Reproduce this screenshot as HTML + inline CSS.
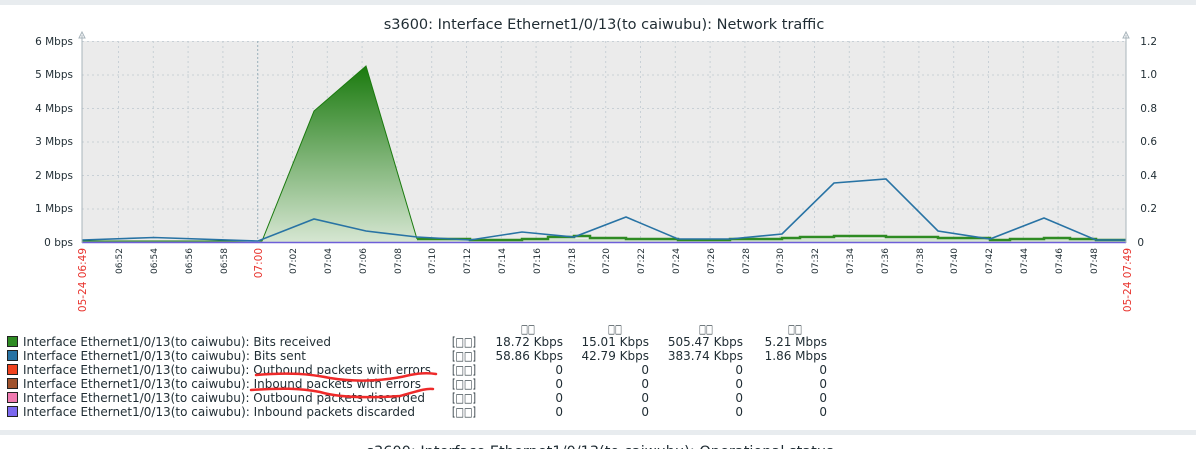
<!DOCTYPE html>
<html><head><meta charset="utf-8"><style>
body{margin:0;width:1196px;height:449px;overflow:hidden;background:#fff;font-family:"DejaVu Sans","Liberation Sans",sans-serif;}
</style></head><body>
<svg width="1196" height="449" xmlns="http://www.w3.org/2000/svg" style="position:absolute;left:0;top:0" font-family="DejaVu Sans, Liberation Sans, sans-serif">
<defs>
<linearGradient id="g" x1="0" y1="0" x2="0" y2="1"><stop offset="0" stop-color="#1a7a0e"/><stop offset="1" stop-color="#d6e6d2"/></linearGradient>
</defs>
<rect x="0" y="0" width="1196" height="5" fill="#e8ecef"/>
<rect x="0" y="430" width="1196" height="5" fill="#e8ecef"/>
<text x="604" y="29" font-size="14.5" text-anchor="middle" fill="#1f2c33">s3600: Interface Ethernet1/0/13(to caiwubu): Network traffic</text>
<rect x="82" y="41" width="1044" height="201" fill="#ebebeb"/>
<g stroke="#c8d0d6" stroke-dasharray="2,3" stroke-width="1">
<line x1="82" x2="1126" y1="41.5" y2="41.5"/><line x1="82" x2="1126" y1="75" y2="75"/><line x1="82" x2="1126" y1="108.5" y2="108.5"/><line x1="82" x2="1126" y1="142" y2="142"/><line x1="82" x2="1126" y1="175.5" y2="175.5"/><line x1="82" x2="1126" y1="209" y2="209"/>
<line x1="118.5" x2="118.5" y1="41" y2="242"/><line x1="153.3" x2="153.3" y1="41" y2="242"/><line x1="188.1" x2="188.1" y1="41" y2="242"/><line x1="222.9" x2="222.9" y1="41" y2="242"/>
<line x1="292.5" x2="292.5" y1="41" y2="242"/><line x1="327.3" x2="327.3" y1="41" y2="242"/><line x1="362.1" x2="362.1" y1="41" y2="242"/><line x1="396.9" x2="396.9" y1="41" y2="242"/><line x1="431.7" x2="431.7" y1="41" y2="242"/><line x1="466.5" x2="466.5" y1="41" y2="242"/><line x1="501.3" x2="501.3" y1="41" y2="242"/><line x1="536.1" x2="536.1" y1="41" y2="242"/><line x1="570.9" x2="570.9" y1="41" y2="242"/><line x1="605.7" x2="605.7" y1="41" y2="242"/><line x1="640.5" x2="640.5" y1="41" y2="242"/><line x1="675.3" x2="675.3" y1="41" y2="242"/><line x1="710.1" x2="710.1" y1="41" y2="242"/><line x1="744.9" x2="744.9" y1="41" y2="242"/><line x1="779.7" x2="779.7" y1="41" y2="242"/><line x1="814.5" x2="814.5" y1="41" y2="242"/><line x1="849.3" x2="849.3" y1="41" y2="242"/><line x1="884.1" x2="884.1" y1="41" y2="242"/><line x1="918.9" x2="918.9" y1="41" y2="242"/><line x1="953.7" x2="953.7" y1="41" y2="242"/><line x1="988.5" x2="988.5" y1="41" y2="242"/><line x1="1023.3" x2="1023.3" y1="41" y2="242"/><line x1="1058.1" x2="1058.1" y1="41" y2="242"/><line x1="1092.9" x2="1092.9" y1="41" y2="242"/>
</g>
<line x1="257.7" x2="257.7" y1="41" y2="242" stroke="#9ab0bb" stroke-dasharray="2,2"/>
<polygon points="82,241 262,241 314,111 366,66 417,239 1126,239 1126,242 82,242" fill="url(#g)"/>
<polyline points="82,241 262,241 314,111 366,66 417,239" fill="none" stroke="#1a7a0e" stroke-width="1"/>
<polyline points="417,239 470,239 470,240 522,240 522,239 548,239 548,237 574,237 574,236 590,236 590,238 626,238 626,239 678,239 678,240 730,240 730,239 782,239 782,238 800,238 800,237 834,237 834,236 886,236 886,237 938,237 938,238 990,238 990,240 1010,240 1010,239 1044,239 1044,238 1070,238 1070,239 1096,239 1096,240 1126,240" fill="none" stroke="#2e8b23" stroke-width="2.5"/>
<polyline points="82,240 154,237.5 258,241 314,219 366,231 417,237 470,240 522,232 574,237 626,217 678,239 730,239 782,234 834,183 886,179 938,231 990,239 1044,218 1096,240 1126,240" fill="none" stroke="#2873a4" stroke-width="1.6"/>
<line x1="82" x2="1126" y1="242.5" y2="242.5" stroke="#6e5fd8" stroke-width="1.5"/>
<line x1="82" x2="82" y1="35" y2="243" stroke="#a8b4bb"/>
<line x1="1126" x2="1126" y1="35" y2="243" stroke="#a8b4bb"/>
<path d="M79,38 L82,32 L85,38 Z M1123,38 L1126,32 L1129,38 Z" fill="none" stroke="#a8b4bb"/>
<g font-size="10.5" fill="#1f2c33" text-anchor="end">
<text x="73" y="45">6 Mbps</text><text x="73" y="78">5 Mbps</text><text x="73" y="112">4 Mbps</text><text x="73" y="145">3 Mbps</text><text x="73" y="179">2 Mbps</text><text x="73" y="212">1 Mbps</text><text x="73" y="246">0 bps</text>
</g>
<g font-size="10.5" fill="#1f2c33" text-anchor="end">
<text x="1157" y="45">1.2</text><text x="1157" y="78">1.0</text><text x="1157" y="112">0.8</text><text x="1157" y="145">0.6</text><text x="1157" y="179">0.4</text><text x="1157" y="212">0.2</text><text x="1144" y="246">0</text>
</g>
<g font-size="9" fill="#1f2c33" text-anchor="end">
<text transform="translate(122,248) rotate(-90)">06:52</text><text transform="translate(157,248) rotate(-90)">06:54</text><text transform="translate(192,248) rotate(-90)">06:56</text><text transform="translate(227,248) rotate(-90)">06:58</text>
<text transform="translate(296,248) rotate(-90)">07:02</text><text transform="translate(331,248) rotate(-90)">07:04</text><text transform="translate(366,248) rotate(-90)">07:06</text><text transform="translate(401,248) rotate(-90)">07:08</text><text transform="translate(435,248) rotate(-90)">07:10</text><text transform="translate(470,248) rotate(-90)">07:12</text><text transform="translate(505,248) rotate(-90)">07:14</text><text transform="translate(540,248) rotate(-90)">07:16</text><text transform="translate(575,248) rotate(-90)">07:18</text><text transform="translate(609,248) rotate(-90)">07:20</text><text transform="translate(644,248) rotate(-90)">07:22</text><text transform="translate(679,248) rotate(-90)">07:24</text><text transform="translate(714,248) rotate(-90)">07:26</text><text transform="translate(749,248) rotate(-90)">07:28</text><text transform="translate(783,248) rotate(-90)">07:30</text><text transform="translate(818,248) rotate(-90)">07:32</text><text transform="translate(853,248) rotate(-90)">07:34</text><text transform="translate(888,248) rotate(-90)">07:36</text><text transform="translate(923,248) rotate(-90)">07:38</text><text transform="translate(957,248) rotate(-90)">07:40</text><text transform="translate(992,248) rotate(-90)">07:42</text><text transform="translate(1027,248) rotate(-90)">07:44</text><text transform="translate(1062,248) rotate(-90)">07:46</text><text transform="translate(1097,248) rotate(-90)">07:48</text>
</g>
<g font-size="10.5" fill="#e8322c" text-anchor="end">
<text transform="translate(86,248) rotate(-90)">05-24 06:49</text>
<text transform="translate(262,248) rotate(-90)">07:00</text>
<text transform="translate(1131,248) rotate(-90)">05-24 07:49</text>
</g>
<g font-size="12" fill="#1f2c33" font-family="DejaVu Sans, sans-serif">
<g><text x="521" y="333" textLength="14" lengthAdjust="spacingAndGlyphs">□□</text><text x="608" y="333" textLength="14" lengthAdjust="spacingAndGlyphs">□□</text><text x="699" y="333" textLength="14" lengthAdjust="spacingAndGlyphs">□□</text><text x="788" y="333" textLength="14" lengthAdjust="spacingAndGlyphs">□□</text></g>
<rect x="7.5" y="336.5" width="10" height="10" fill="#2e8b23" stroke="#222"/>
<rect x="7.5" y="350.5" width="10" height="10" fill="#2873a4" stroke="#222"/>
<rect x="7.5" y="364.5" width="10" height="10" fill="#f0421e" stroke="#222"/>
<rect x="7.5" y="378.5" width="10" height="10" fill="#a0522d" stroke="#222"/>
<rect x="7.5" y="392.5" width="10" height="10" fill="#f07ab0" stroke="#222"/>
<rect x="7.5" y="406.5" width="10" height="10" fill="#7b68ee" stroke="#222"/>
<text x="23" y="346" textLength="308" lengthAdjust="spacingAndGlyphs">Interface Ethernet1/0/13(to caiwubu): Bits received</text>
<text x="23" y="360" textLength="283" lengthAdjust="spacingAndGlyphs">Interface Ethernet1/0/13(to caiwubu): Bits sent</text>
<text x="23" y="374" textLength="408" lengthAdjust="spacingAndGlyphs">Interface Ethernet1/0/13(to caiwubu): Outbound packets with errors</text>
<text x="23" y="388" textLength="398" lengthAdjust="spacingAndGlyphs">Interface Ethernet1/0/13(to caiwubu): Inbound packets with errors</text>
<text x="23" y="402" textLength="402" lengthAdjust="spacingAndGlyphs">Interface Ethernet1/0/13(to caiwubu): Outbound packets discarded</text>
<text x="23" y="416" textLength="392" lengthAdjust="spacingAndGlyphs">Interface Ethernet1/0/13(to caiwubu): Inbound packets discarded</text>
<g><text x="452" y="346" textLength="24" lengthAdjust="spacingAndGlyphs">[□□]</text><text x="452" y="360" textLength="24" lengthAdjust="spacingAndGlyphs">[□□]</text><text x="452" y="374" textLength="24" lengthAdjust="spacingAndGlyphs">[□□]</text><text x="452" y="388" textLength="24" lengthAdjust="spacingAndGlyphs">[□□]</text><text x="452" y="402" textLength="24" lengthAdjust="spacingAndGlyphs">[□□]</text><text x="452" y="416" textLength="24" lengthAdjust="spacingAndGlyphs">[□□]</text></g>
<g text-anchor="end">
<text x="563" y="346">18.72 Kbps</text><text x="649" y="346">15.01 Kbps</text><text x="743" y="346">505.47 Kbps</text><text x="827" y="346">5.21 Mbps</text>
<text x="563" y="360">58.86 Kbps</text><text x="649" y="360">42.79 Kbps</text><text x="743" y="360">383.74 Kbps</text><text x="827" y="360">1.86 Mbps</text>
<text x="563" y="374">0</text><text x="649" y="374">0</text><text x="743" y="374">0</text><text x="827" y="374">0</text>
<text x="563" y="388">0</text><text x="649" y="388">0</text><text x="743" y="388">0</text><text x="827" y="388">0</text>
<text x="563" y="402">0</text><text x="649" y="402">0</text><text x="743" y="402">0</text><text x="827" y="402">0</text>
<text x="563" y="416">0</text><text x="649" y="416">0</text><text x="743" y="416">0</text><text x="827" y="416">0</text>
</g>
</g>
<g fill="none" stroke="#ee2a2a" stroke-width="2.5" stroke-linecap="round">
<path d="M256,375 C290,372 310,374 330,378 C360,383 390,380 410,375 C420,373 430,373 436,374"/>
<path d="M251,390 C280,388 300,388 320,392 C340,398 370,398 400,396 C415,392 425,388 433,389"/>
</g>
<text x="600" y="456" font-size="14.5" text-anchor="middle" fill="#1f2c33">s3600: Interface Ethernet1/0/13(to caiwubu): Operational status</text>
</svg>
</body></html>
